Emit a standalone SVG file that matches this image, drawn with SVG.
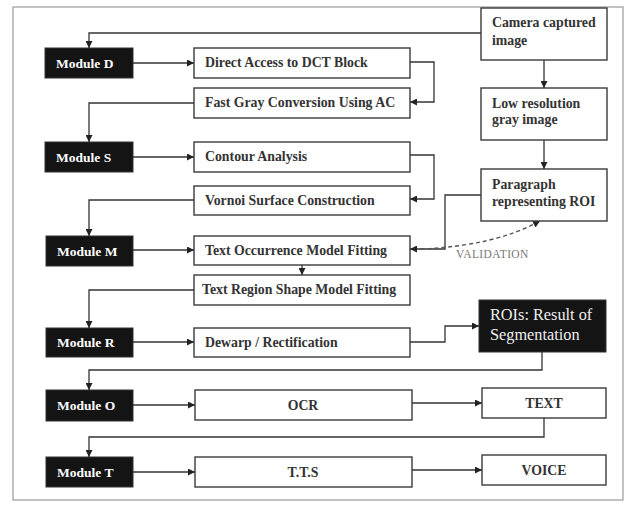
<svg xmlns="http://www.w3.org/2000/svg" width="630" height="508" viewBox="0 0 630 508">
<style>
.bg{fill:#fff}
.frame{fill:none;stroke:#9a9a9a;stroke-width:1.2}
.mod{fill:#141414;stroke:#333;stroke-width:1}
.box{fill:#fff;stroke:#3a3a3a;stroke-width:1.4}
.mt{font-family:"Liberation Serif",serif;font-weight:bold;font-size:13.5px;fill:#fff}
.t{font-family:"Liberation Serif",serif;font-weight:bold;font-size:13.8px;fill:#333}
.rt{font-family:"Liberation Serif",serif;font-size:16.3px;fill:#eee}
.c{fill:none;stroke:#333;stroke-width:1.3}
.d{fill:none;stroke:#555;stroke-width:1.4;stroke-dasharray:4,3}
.val{font-family:"Liberation Serif",serif;font-size:11.5px;fill:#777;letter-spacing:0.4px}
</style>
<defs>
<marker id="ah" viewBox="0 0 10 10" refX="10" refY="5" markerWidth="7" markerHeight="7" orient="auto" markerUnits="userSpaceOnUse">
<path d="M0,0 L10,5 L0,10 z" fill="#222"/>
</marker>
</defs>
<rect class="bg" x="0" y="0" width="630" height="508"/>
<rect class="frame" x="13" y="7" width="610" height="493"/>

<g id="connectors">
<path class="c" d="M481,33 H89 V48" marker-end="url(#ah)"/>
<path class="c" d="M133,63 H194" marker-end="url(#ah)"/>
<path class="c" d="M410,62 H434 V102 H410" marker-end="url(#ah)"/>
<path class="c" d="M194,103 H89 V142" marker-end="url(#ah)"/>
<path class="c" d="M133,157 H194" marker-end="url(#ah)"/>
<path class="c" d="M410,155 H434 V199 H410" marker-end="url(#ah)"/>
<path class="c" d="M194,200 H89 V236" marker-end="url(#ah)"/>
<path class="c" d="M133,250 H194" marker-end="url(#ah)"/>
<path class="c" d="M302,265 V275" marker-end="url(#ah)"/>
<path class="c" d="M194,290 H89 V328" marker-end="url(#ah)"/>
<path class="c" d="M133,342 H194" marker-end="url(#ah)"/>
<path class="c" d="M410,342 H445 V326 H479" marker-end="url(#ah)"/>
<path class="c" d="M542,352 V370 H89 V390" marker-end="url(#ah)"/>
<path class="c" d="M133,405 H195" marker-end="url(#ah)"/>
<path class="c" d="M412,403 H482" marker-end="url(#ah)"/>
<path class="c" d="M544,418 V437 H89 V457" marker-end="url(#ah)"/>
<path class="c" d="M133,472 H195" marker-end="url(#ah)"/>
<path class="c" d="M412,470 H482" marker-end="url(#ah)"/>
<path class="c" d="M544,60 V88" marker-end="url(#ah)"/>
<path class="c" d="M544,140 V169" marker-end="url(#ah)"/>
<path class="c" d="M481,195 H445 V249 H410" marker-end="url(#ah)"/>
<path class="d" d="M420,249 Q495,246 540,221" marker-end="url(#ah)"/>
<text class="val" x="456" y="258">VALIDATION</text>
</g>

<g id="camera"><rect class="box" x="481" y="8" width="126" height="52"/><text class="t" x="492" y="27">Camera captured</text><text class="t" x="492" y="45">image</text></g>
<g id="lowres"><rect class="box" x="481" y="88" width="126" height="52"/><text class="t" x="492" y="108">Low resolution</text><text class="t" x="492" y="124">gray image</text></g>
<g id="paragraph"><rect class="box" x="481" y="169" width="126" height="52"/><text class="t" x="492" y="189">Paragraph</text><text class="t" x="492" y="206">representing ROI</text></g>
<g id="rois"><rect class="mod" x="479" y="300" width="127" height="52"/><text class="rt" x="490" y="320">ROIs: Result of</text><text class="rt" x="490" y="340">Segmentation</text></g>
<g id="textout"><rect class="box" x="482" y="388" width="124" height="30"/><text class="t" x="544" y="408" text-anchor="middle">TEXT</text></g>
<g id="voice"><rect class="box" x="482" y="455" width="124" height="30"/><text class="t" x="544" y="475" text-anchor="middle">VOICE</text></g>

<g id="moduleD"><rect class="mod" x="45" y="48" width="88" height="30"/><text class="mt" x="56" y="68">Module D</text></g>
<g id="moduleS"><rect class="mod" x="45" y="142" width="88" height="30"/><text class="mt" x="56" y="162">Module S</text></g>
<g id="moduleM"><rect class="mod" x="46" y="236" width="87" height="30"/><text class="mt" x="57" y="256">Module M</text></g>
<g id="moduleR"><rect class="mod" x="46" y="328" width="87" height="29"/><text class="mt" x="57" y="347">Module R</text></g>
<g id="moduleO"><rect class="mod" x="46" y="390" width="87" height="31"/><text class="mt" x="57" y="410">Module O</text></g>
<g id="moduleT"><rect class="mod" x="46" y="457" width="87" height="30"/><text class="mt" x="57" y="477">Module T</text></g>

<g id="dct"><rect class="box" x="194" y="48" width="216" height="30"/><text class="t" x="205" y="67">Direct Access to DCT Block</text></g>
<g id="gray"><rect class="box" x="194" y="88" width="216" height="30"/><text class="t" x="205" y="107">Fast Gray Conversion Using AC</text></g>
<g id="contour"><rect class="box" x="194" y="142" width="216" height="30"/><text class="t" x="205" y="161">Contour Analysis</text></g>
<g id="vornoi"><rect class="box" x="194" y="186" width="216" height="29"/><text class="t" x="205" y="205">Vornoi Surface Construction</text></g>
<g id="occurrence"><rect class="box" x="194" y="236" width="216" height="29"/><text class="t" x="205" y="255">Text Occurrence Model Fitting</text></g>
<g id="shape"><rect class="box" x="194" y="275" width="216" height="30"/><text class="t" x="202" y="294">Text Region Shape Model Fitting</text></g>
<g id="dewarp"><rect class="box" x="194" y="328" width="216" height="29"/><text class="t" x="205" y="347">Dewarp / Rectification</text></g>
<g id="ocr"><rect class="box" x="195" y="390" width="217" height="30"/><text class="t" x="303" y="410" text-anchor="middle">OCR</text></g>
<g id="tts"><rect class="box" x="195" y="457" width="217" height="30"/><text class="t" x="303" y="477" text-anchor="middle">T.T.S</text></g>
</svg>
